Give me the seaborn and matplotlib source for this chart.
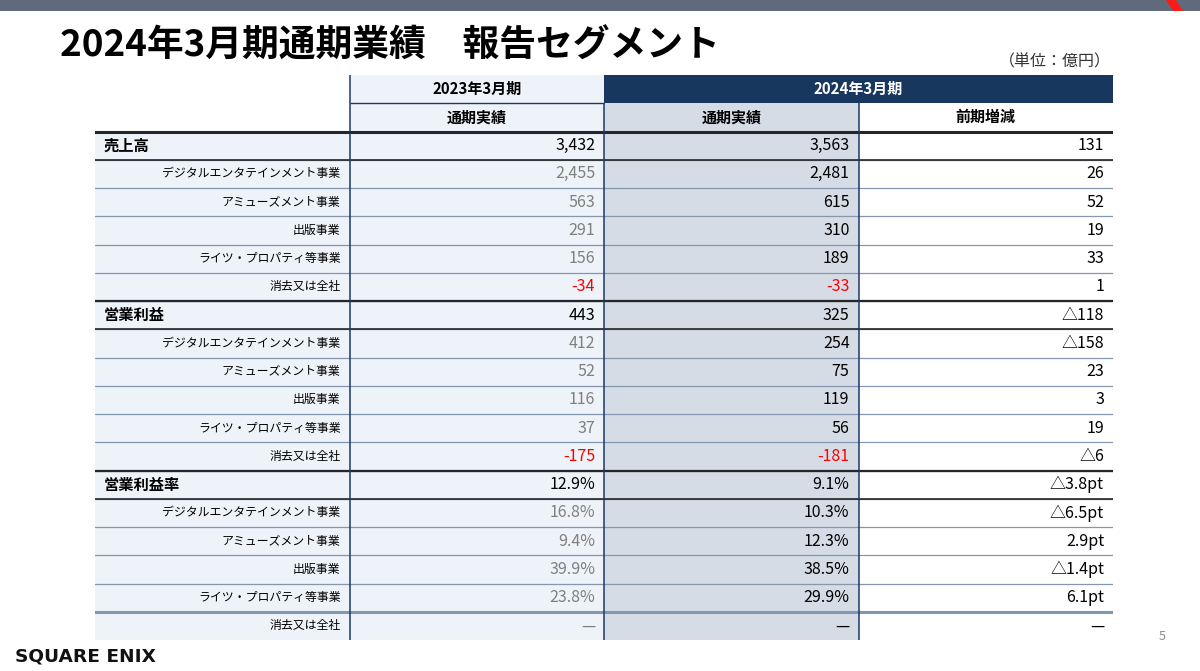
import numpy as np
import seaborn as sns
from matplotlib import pyplot as plt
from matplotlib.colors import ListedColormap
from matplotlib.patches import Polygon

sns.set_theme(style='white')
plt.rcParams['font.family'] = ['Noto Sans CJK JP', 'DejaVu Sans']

title = '2024年3月期通期業績\u3000報告セグメント'
unit = '（単位：億円）'
period_prev = '2023年3月期'
period_cur = '2024年3月期'
col_heads = ['通期実績', '通期実績', '前期増減']

sections = ['売上高', '営業利益', '営業利益率']
segments = ['デジタルエンタテインメント事業', 'アミューズメント事業', '出版事業',
            'ライツ・プロパティ等事業', '消去又は全社']

# per section: total first, then segments (None = no value)
fy23 = [3432, 2455, 563, 291, 156, -34,
        443, 412, 52, 116, 37, -175,
        12.9, 16.8, 9.4, 39.9, 23.8, None]
fy24 = [3563, 2481, 615, 310, 189, -33,
        325, 254, 75, 119, 56, -181,
        9.1, 10.3, 12.3, 38.5, 29.9, None]
yoy = [131, 26, 52, 19, 33, 1,
       -118, -158, 23, 3, 19, -6,
       -3.8, -6.5, 2.9, -1.4, 6.1, None]


def fmt_val(v, is_rate):
    if v is None:
        return '—'
    if is_rate:
        return f'{v:.1f}%'
    return f'{v:,}'


def fmt_diff(v, is_rate):
    if v is None:
        return '—'
    s = f'{abs(v):.1f}pt' if is_rate else f'{abs(v):,}'
    return ('△' + s) if v < 0 else s


n_rows = 2 + len(fy23)
cells = np.zeros((n_rows, 4))
cells[0] = [0, 1, 3, 3]
cells[1] = [0, 1, 2, 0]
cells[2:] = [1, 1, 2, 0]
cmap = ListedColormap(['#ffffff', '#eef2f9', '#d6dce5', '#17375e'])

fig = plt.figure(figsize=(12, 6.71), dpi=100)

# page background layer in pixel coordinates
bg = fig.add_axes([0, 0, 1, 1])
bg.set_xlim(0, 1200)
bg.set_ylim(671, 0)
bg.axis('off')
bg.axhspan(0, 11, color='#5f6b7a', lw=0)
bg.add_patch(Polygon([[1166, 0], [1176, 0], [1183, 11], [1173, 11]], closed=True,
                     color='#ff1a1a', lw=0))
bg.text(60, 46, title, fontsize=26.5, fontweight='bold', va='center', ha='left', color='#000000')
bg.text(1111, 62, unit, fontsize=11.5, va='center', ha='right', color='#333333')
bg.text(15, 656, 'SQUARE ENIX', fontsize=13.3, fontweight='bold', va='center', ha='left',
        family='DejaVu Sans', color='#111111')
bg.text(1162, 637, '5', fontsize=9, va='center', ha='center', color='#8c8c8c')

# table
ax = fig.add_axes([95 / 1200, 1 - 640 / 671, (1113 - 95) / 1200, (640 - 75) / 671])
sns.heatmap(cells, cmap=cmap, vmin=-0.5, vmax=3.5, cbar=False, ax=ax,
            xticklabels=False, yticklabels=False, linewidths=0)
for sp in ax.spines.values():
    sp.set_visible(False)

navy = '#1f3864'
thin = '#8497b0'
dark = '#262626'

# header
ax.text(1.5, 0.5, period_prev, ha='center', va='center', fontsize=10.8, fontweight='bold', color='#000000')
ax.text(3.0, 0.5, period_cur, ha='center', va='center', fontsize=10.8, fontweight='bold', color='#ffffff')
for j, h in enumerate(col_heads):
    ax.text(1.5 + j, 1.5, h, ha='center', va='center', fontsize=10.8, fontweight='bold', color='#000000')

pad = 0.035
for i in range(len(fy23)):
    r = 2 + i
    sec, sub = divmod(i, 6)
    is_rate = sec == 2
    yc = r + 0.5
    if sub == 0:
        ax.text(pad, yc, sections[sec], ha='left', va='center', fontsize=11, fontweight='bold', color='#000000')
    else:
        ax.text(1 - pad, yc, segments[sub - 1], ha='right', va='center', fontsize=8.6, color='#000000')
    v23, v24, d = fy23[i], fy24[i], yoy[i]
    c23 = '#000000' if sub == 0 else '#808080'
    if v23 is not None and v23 < 0:
        c23 = '#ff0000'
    c24 = '#ff0000' if (v24 is not None and v24 < 0) else '#000000'
    ax.text(2 - pad, yc, fmt_val(v23, is_rate), ha='right', va='center', fontsize=11.5, color=c23)
    ax.text(3 - pad, yc, fmt_val(v24, is_rate), ha='right', va='center', fontsize=11.5, color=c24)
    ax.text(4 - pad, yc, fmt_diff(d, is_rate), ha='right', va='center', fontsize=11.5, color='#000000')

# row rules
for r in range(3, n_rows):
    ax.axhline(r, color=thin, lw=0.9)
ax.axhline(n_rows - 1, color=thin, lw=2.2)
for s in range(3):
    top = 2 + 6 * s
    ax.axhline(top, color=dark, lw=2.2 if s == 0 else 1.6)
    ax.axhline(top + 1, color=dark, lw=1.2)
ax.hlines(1, 1, 2, color=navy, lw=1)

# column rules
ax.vlines(1, 0, n_rows, color=navy, lw=1.1)
ax.vlines([2, 3], 1, n_rows, color=navy, lw=1.1)

ax.set_xlim(0, 4)
ax.set_ylim(n_rows, 0)

fig.savefig('out.png', dpi=100)
